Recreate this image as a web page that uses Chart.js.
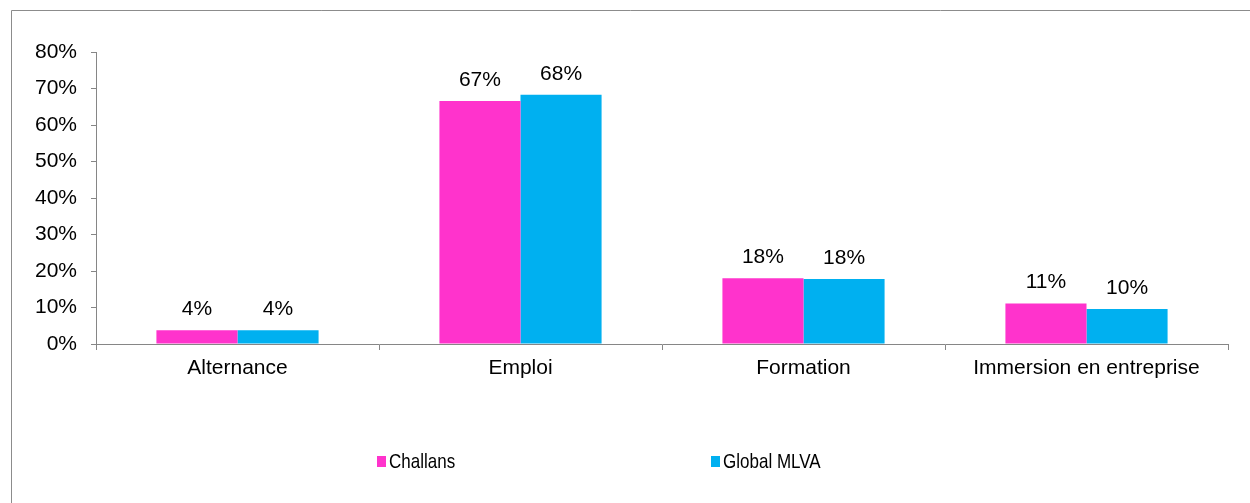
<!DOCTYPE html>
<html>
<head>
<meta charset="utf-8">
<script src="https://cdn.jsdelivr.net/npm/chart.js@4/dist/chart.umd.min.js"></script>
<style>
  body { margin: 0; background: #fff; overflow: hidden; }
  canvas { display: block; }
</style>
</head>
<body>
<canvas id="chart" width="1250" height="503"></canvas>
<script>
const categories = ["Alternance", "Emploi", "Formation", "Immersion en entreprise"];
const challans = [3.8, 66.6, 18.0, 11.1];
const globalMlva = [3.8, 68.3, 17.8, 9.6];
const yTicks = [0, 10, 20, 30, 40, 50, 60, 70, 80];

const FONT = "'Liberation Sans', Arial, sans-serif";

// frame of the picture (only top and left edges are visible)
const framePlugin = {
  id: "frame",
  beforeDraw(chart) {
    const ctx = chart.ctx;
    ctx.save();
    ctx.strokeStyle = "#8c8c8c";
    ctx.lineWidth = 1;
    ctx.beginPath();
    ctx.moveTo(11.5, chart.height);
    ctx.lineTo(11.5, 10.5);
    ctx.lineTo(chart.width, 10.5);
    ctx.stroke();
    ctx.restore();
  },
};

// value labels above each bar
const valueLabels = {
  id: "valueLabels",
  afterDatasetsDraw(chart) {
    const ctx = chart.ctx;
    ctx.save();
    ctx.font = "21px " + FONT;
    ctx.fillStyle = "#000";
    ctx.textAlign = "center";
    ctx.textBaseline = "alphabetic";
    chart.data.datasets.forEach((ds, i) => {
      chart.getDatasetMeta(i).data.forEach((bar, j) => {
        ctx.fillText(Math.round(ds.data[j]) + "%", bar.x, bar.y - 15);
      });
    });
    ctx.restore();
  },
};

// legend spread out along the bottom, like the original
const spreadLegend = {
  id: "spreadLegend",
  afterDraw(chart) {
    const ctx = chart.ctx;
    const xs = [377, 711];
    const cy = 461;
    ctx.save();
    ctx.font = "21px " + FONT;
    ctx.textBaseline = "middle";
    ctx.textAlign = "left";
    chart.data.datasets.forEach((ds, i) => {
      ctx.fillStyle = ds.backgroundColor;
      ctx.fillRect(xs[i], cy - 5, 9, 11);
      ctx.fillStyle = "#000";
      ctx.save();
      ctx.translate(xs[i] + 12, cy + 1);
      ctx.scale(0.81, 1);
      ctx.fillText(ds.label, 0, 0);
      ctx.restore();
    });
    ctx.restore();
  },
};

new Chart(document.getElementById("chart"), {
  type: "bar",
  data: {
    labels: categories,
    datasets: [
      {
        label: "Challans",
        data: challans,
        backgroundColor: "#ff33cc",
        categoryPercentage: 0.573,
        barPercentage: 1.0,
      },
      {
        label: "Global MLVA",
        data: globalMlva,
        backgroundColor: "#00b0f0",
        categoryPercentage: 0.573,
        barPercentage: 1.0,
      },
    ],
  },
  plugins: [framePlugin, valueLabels, spreadLegend],
  options: {
    responsive: false,
    animation: false,
    layout: { padding: { top: 52, right: 22, bottom: 119, left: 0 } },
    plugins: {
      legend: { display: false },
      tooltip: { enabled: false },
    },
    scales: {
      x: {
        afterFit(scale) { scale.height = 40; },
        grid: {
          offset: true,
          drawOnChartArea: false,
          drawTicks: true,
          tickLength: 6,
          color: "#868686",
        },
        border: { color: "#868686", width: 1 },
        ticks: {
          color: "#000",
          font: { family: FONT, size: 21 },
          padding: 6,
          maxRotation: 0,
        },
      },
      y: {
        min: 0,
        max: 80,
        afterFit(scale) { scale.width = 96; },
        afterBuildTicks(scale) {
          scale.ticks = yTicks.map((v) => ({ value: v }));
        },
        grid: {
          drawOnChartArea: false,
          drawTicks: true,
          tickLength: 5,
          color: "#868686",
        },
        border: { color: "#868686", width: 1 },
        ticks: {
          color: "#000",
          font: { family: FONT, size: 21 },
          padding: 14,
          callback: (v) => v + "%",
        },
      },
    },
  },
});
</script>
</body>
</html>
